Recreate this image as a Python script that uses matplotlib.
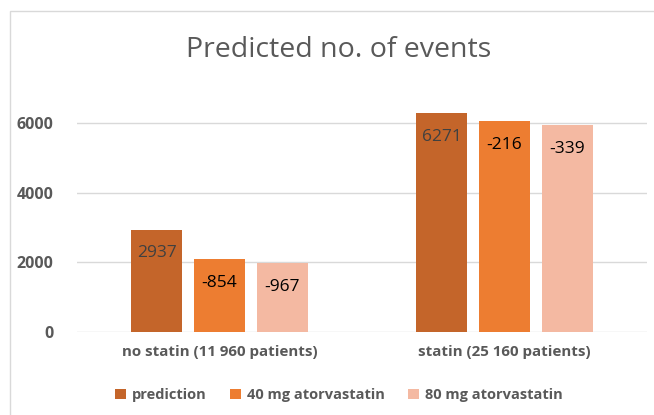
import matplotlib.pyplot as plt
import numpy as np
from matplotlib.patches import Rectangle

groups = ["no statin (11 960 patients)", "statin (25 160 patients)"]
series = ["prediction", "40 mg atorvastatin", "80 mg atorvastatin"]
prediction = [2937, 6271]
change_40 = [-854, -216]
change_80 = [-967, -339]
yticks = [0, 2000, 4000, 6000]
colors = ["#C4652A", "#ED7D31", "#F4B9A2"]
label_colors = ["#404040", "#000000", "#000000"]

values = [
    np.array(prediction),
    np.array(prediction) + np.array(change_40),
    np.array(prediction) + np.array(change_80),
]
labels = [prediction, change_40, change_80]

plt.rcParams['font.family'] = ['Open Sans', 'DejaVu Sans']
fig = plt.figure(figsize=(6.54, 4.15), dpi=100)
ax = fig.add_axes([77 / 654, (415 - 332) / 415, 570 / 654, 244 / 415])

# chart frame (only left and top edges are visible in the crop)
fig.patches.append(Rectangle((10 / 654, -0.1), 1.2, (415 - 11) / 415 + 0.1,
                             transform=fig.transFigure, fill=False,
                             edgecolor="#D9D9D9", linewidth=1))

x = np.arange(len(groups))
w = 0.176
step = 0.221
for i in range(3):
    pos = x + (i - 1) * step
    ax.bar(pos, values[i], width=w, color=colors[i], label=series[i], zorder=3)
    for px, v, lab in zip(pos, values[i], labels[i]):
        ax.annotate(str(lab), (px, v), xytext=(0, -17), textcoords="offset points",
                    ha="center", va="center", fontsize=12.5, color=label_colors[i])

ax.set_xlim(-0.5, 1.5)
ax.set_ylim(0, 7000)
ax.set_yticks(yticks, labels=[str(t) for t in yticks], fontsize=11.5,
              fontweight="bold", color="#595959")
ax.set_xticks(x, labels=groups, fontsize=10.9, fontweight="bold", color="#595959")
ax.tick_params(length=0)
ax.tick_params(axis="y", pad=17)
ax.tick_params(axis="x", pad=9)
ax.yaxis.grid(True, color="#D9D9D9", linewidth=1, zorder=0)
for s in ax.spines.values():
    s.set_visible(False)

fig.text(0.518, (415 - 57) / 415, "Predicted no. of events", ha="center", va="baseline",
         fontsize=20.5, color="#595959")

fig.legend(loc="center", bbox_to_anchor=(0.518, (415 - 395) / 415), ncol=3,
           frameon=False, handlelength=0.75, handleheight=0.75, handletextpad=0.4,
           columnspacing=1.6, prop={"size": 10.5, "weight": "bold"},
           labelcolor="#595959")

fig.savefig("out.png", dpi=100)
